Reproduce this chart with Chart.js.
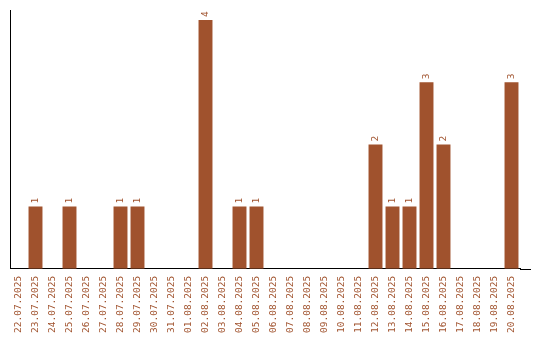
<!DOCTYPE html>
<html>
<head>
<meta charset="utf-8">
<script src="https://cdn.jsdelivr.net/npm/chart.js@4/dist/chart.umd.min.js"></script>
<style>
  html, body { margin: 0; padding: 0; background: #fff; }
  #wrap { width: 540px; height: 340px; }
</style>
</head>
<body>
<div id="wrap"><canvas id="countChart"></canvas></div>
<script>
const days = ['22.07.2025', '23.07.2025', '24.07.2025', '25.07.2025', '26.07.2025', '27.07.2025',
  '28.07.2025', '29.07.2025', '30.07.2025', '31.07.2025', '01.08.2025', '02.08.2025',
  '03.08.2025', '04.08.2025', '05.08.2025', '06.08.2025', '07.08.2025', '08.08.2025',
  '09.08.2025', '10.08.2025', '11.08.2025', '12.08.2025', '13.08.2025', '14.08.2025',
  '15.08.2025', '16.08.2025', '17.08.2025', '18.08.2025', '19.08.2025', '20.08.2025'];
const counts = [0, 1, 0, 1, 0, 0, 1, 1, 0, 0, 0, 4, 0, 1, 1, 0, 0, 0, 0, 0, 0, 2, 1, 1, 3, 2, 0, 0, 0, 3];

const barColor = '#a0522d';
const monoFont = { family: '"DejaVu Sans Mono", monospace', size: 9.5 };

// value labels written upwards above each bar
const valueLabels = {
  id: 'valueLabels',
  afterDatasetsDraw(chart) {
    const ctx = chart.ctx;
    const meta = chart.getDatasetMeta(0);
    ctx.save();
    ctx.fillStyle = barColor;
    ctx.font = '9.5px "DejaVu Sans Mono", monospace';
    ctx.textAlign = 'left';
    ctx.textBaseline = 'middle';
    meta.data.forEach((bar, i) => {
      const v = counts[i];
      if (!v) return;
      ctx.save();
      ctx.translate(bar.x, bar.y - 3);
      ctx.rotate(-Math.PI / 2);
      ctx.fillText(String(v), 0, 0);
      ctx.restore();
    });
    ctx.restore();
  }
};

// x axis line runs a bit past the last category
const axisTail = {
  id: 'axisTail',
  afterDraw(chart) {
    const ctx = chart.ctx;
    const a = chart.chartArea;
    ctx.save();
    ctx.strokeStyle = '#000';
    ctx.lineWidth = 1;
    ctx.beginPath();
    ctx.moveTo(a.right, Math.round(a.bottom) + 0.5);
    ctx.lineTo(531, Math.round(a.bottom) + 0.5);
    ctx.stroke();
    ctx.restore();
  }
};

new Chart(document.getElementById('countChart').getContext('2d'), {
  type: 'bar',
  data: {
    labels: days,
    datasets: [{
      data: counts,
      backgroundColor: barColor,
      barPercentage: 0.82,
      categoryPercentage: 1
    }]
  },
  options: {
    responsive: true,
    maintainAspectRatio: false,
    animation: false,
    layout: { padding: { top: 10, left: 10, right: 20, bottom: 0 } },
    plugins: { legend: { display: false }, tooltip: { enabled: false } },
    scales: {
      x: {
        grid: { display: false, drawTicks: false },
        border: { display: true, color: '#000', width: 1 },
        ticks: {
          color: barColor,
          font: monoFont,
          minRotation: 90,
          maxRotation: 90,
          autoSkip: false,
          padding: 7
        }
      },
      y: {
        min: 0,
        max: Math.max(...counts) * 1.04,
        grid: { display: false, drawTicks: false },
        border: { display: true, color: '#000', width: 1 },
        ticks: { display: false }
      }
    }
  },
  plugins: [valueLabels, axisTail]
});
</script>
</body>
</html>
